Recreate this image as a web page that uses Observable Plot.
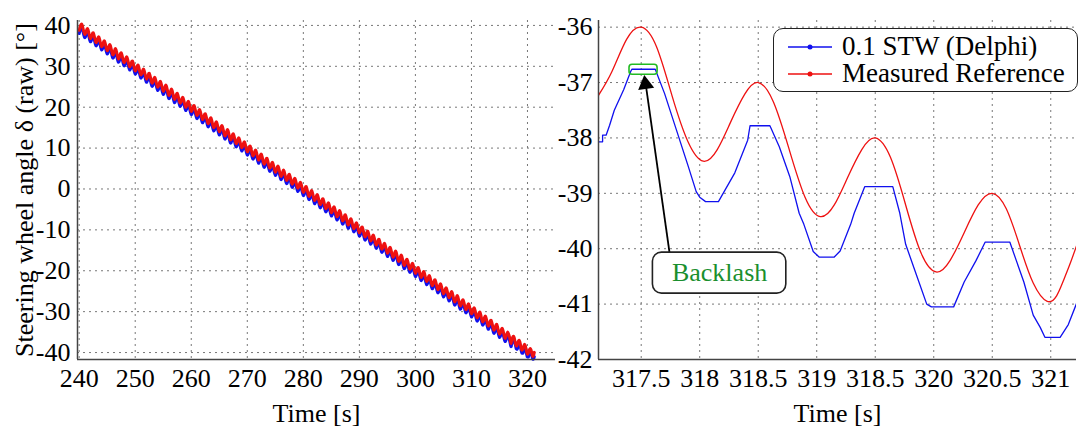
<!DOCTYPE html>
<html><head><meta charset="utf-8">
<script src="https://cdn.jsdelivr.net/npm/d3@7"></script>
<script src="https://cdn.jsdelivr.net/npm/@observablehq/plot@0.6"></script>
<style>
body{margin:0;background:#fff;}
#wrap{position:relative;width:1081px;height:428px;display:flex;font-family:"Liberation Serif",serif;}
#legend{position:absolute;left:773px;top:28px;width:305px;height:64px;border:1.6px solid #222;border-radius:10px;background:#fff;box-sizing:border-box;font-size:27px;line-height:27px;}
.row{position:absolute;left:14px;display:flex;align-items:center;white-space:nowrap;}
.row span{margin-left:10px;}
</style></head><body>
<div id="wrap"><div id="left"></div><div id="right"></div>
<div id="legend"></div></div>
<script>
// ---------- Data ----------
const seriesNames = ["0.1 STW (Delphi)", "Measured Reference"];
const seriesColors = ["#1010ee", "#ee1111"];

// left panel: extremes of the oscillation (peaks at t+0.5, troughs at whole seconds)
const leftPeakTimes = d3.range(240.5, 317, 1);
const leftTroughTimes = d3.range(240, 317.5, 1);
const leftRedPeaks = [40.2, 39.2, 38.2, 37.2, 36.2, 35.3, 34.3, 33.3, 32.3, 31.3,
 30.3, 29.3, 28.3, 27.3, 26.3, 25.4, 24.4, 23.4, 22.4, 21.4,
 20.4, 19.4, 18.4, 17.4, 16.4, 15.5, 14.5, 13.5, 12.5, 11.5,
 10.5, 9.5, 8.5, 7.5, 6.5, 5.6, 4.6, 3.6, 2.6, 1.6,
 0.6, -0.4, -1.4, -2.4, -3.4, -4.4, -5.3, -6.3, -7.3, -8.3,
 -9.3, -10.3, -11.3, -12.3, -13.3, -14.3, -15.2, -16.2, -17.2, -18.2,
 -19.2, -20.2, -21.2, -22.2, -23.2, -24.2, -25.1, -26.1, -27.1, -28.1,
 -29.1, -30.1, -31.1, -32.1, -33.1, -34.1, -35.0];
const leftRedTroughs = [38.8, 37.8, 36.8, 35.8, 34.8, 33.8, 32.8, 31.8, 30.9, 29.9,
 28.9, 27.9, 26.9, 25.9, 24.9, 23.9, 22.9, 21.9, 21.0, 20.0,
 19.0, 18.0, 17.0, 16.0, 15.0, 14.0, 13.0, 12.0, 11.1, 10.1,
 9.1, 8.1, 7.1, 6.1, 5.1, 4.1, 3.1, 2.1, 1.2, 0.2,
 -0.8, -1.8, -2.8, -3.8, -4.8, -5.8, -6.8, -7.8, -8.8, -9.7,
 -10.7, -11.7, -12.7, -13.7, -14.7, -15.7, -16.7, -17.7, -18.7, -19.6,
 -20.6, -21.6, -22.6, -23.6, -24.6, -25.6, -26.6, -27.6, -28.6, -29.5,
 -30.5, -31.5, -32.5, -33.5, -34.5, -35.5, -36.5, -37.5];
const leftBluePeaks = [39.4, 38.4, 37.4, 36.4, 35.4, 34.5, 33.5, 32.5, 31.5, 30.5,
 29.5, 28.5, 27.5, 26.5, 25.5, 24.6, 23.6, 22.6, 21.6, 20.6,
 19.6, 18.6, 17.6, 16.6, 15.6, 14.7, 13.7, 12.7, 11.7, 10.7,
 9.7, 8.7, 7.7, 6.7, 5.7, 4.8, 3.8, 2.8, 1.8, 0.8,
 -0.2, -1.2, -2.2, -3.2, -4.2, -5.2, -6.1, -7.1, -8.1, -9.1,
 -10.1, -11.1, -12.1, -13.1, -14.1, -15.1, -16.0, -17.0, -18.0, -19.0,
 -20.0, -21.0, -22.0, -23.0, -24.0, -25.0, -25.9, -26.9, -27.9, -28.9,
 -29.9, -30.9, -31.9, -32.9, -33.9, -34.9, -35.8];
const leftBlueTroughs = [38.0, 37.0, 36.0, 35.0, 34.0, 33.0, 32.0, 31.0, 30.1, 29.1,
 28.1, 27.1, 26.1, 25.1, 24.1, 23.1, 22.1, 21.1, 20.2, 19.2,
 18.2, 17.2, 16.2, 15.2, 14.2, 13.2, 12.2, 11.2, 10.3, 9.3,
 8.3, 7.3, 6.3, 5.3, 4.3, 3.3, 2.3, 1.3, 0.4, -0.6,
 -1.6, -2.6, -3.6, -4.6, -5.6, -6.6, -7.6, -8.6, -9.6, -10.5,
 -11.5, -12.5, -13.5, -14.5, -15.5, -16.5, -17.5, -18.5, -19.5, -20.4,
 -21.4, -22.4, -23.4, -24.4, -25.4, -26.4, -27.4, -28.4, -29.4, -30.3,
 -31.3, -32.3, -33.3, -34.3, -35.3, -36.3, -37.3, -38.3];

// right panel (zoom 317.1 - 321.2 s)
const redTimes = [317.135, 317.25, 317.375, 317.5, 317.63, 317.765, 317.9, 318.03, 318.15, 318.265, 318.385, 318.5,
 318.63, 318.765, 318.9, 319.03, 319.15, 319.265, 319.385, 319.5, 319.63, 319.76, 319.89, 320.02, 320.14, 320.26,
 320.38, 320.5, 320.62, 320.735, 320.85, 320.97, 321.05, 321.1, 321.16, 321.22];
const redValues = [-37.23, -36.8, -36.22, -36.0, -36.35, -37.25, -38.07, -38.42, -38.21, -37.71, -37.21, -37.0,
 -37.35, -38.21, -39.07, -39.42, -39.21, -38.71, -38.21, -38.0, -38.35, -39.21, -40.07, -40.42, -40.21, -39.71,
 -39.21, -39.0, -39.28, -39.95, -40.62, -40.95, -40.85, -40.62, -40.3, -39.95];
const blueTimes = [317.135, 317.17, 317.17, 317.2, 317.23, 317.27, 317.35, 317.41, 317.42, 317.62, 317.7, 317.8,
 317.9, 317.97, 318.0, 318.05, 318.16, 318.3, 318.41, 318.43, 318.6, 318.68, 318.77, 318.85, 318.89, 318.97,
 319.02, 319.15, 319.2, 319.29, 319.32, 319.41, 319.65, 319.71, 319.76, 319.85, 319.94, 319.98, 320.17, 320.26,
 320.36, 320.44, 320.65, 320.77, 320.85, 320.91, 320.95, 321.08, 321.15, 321.22];
const blueValues = [-38.07, -38.07, -37.95, -37.95, -37.77, -37.5, -37.13, -36.8, -36.76, -36.76, -37.2, -37.85,
 -38.5, -38.97, -39.07, -39.15, -39.15, -38.63, -38.04, -37.78, -37.78, -38.16, -38.7, -39.36, -39.56, -40.05,
 -40.15, -40.15, -40.04, -39.56, -39.36, -38.88, -38.88, -39.36, -39.92, -40.46, -41.0, -41.05, -41.05, -40.6,
 -40.22, -39.88, -39.88, -40.6, -41.2, -41.42, -41.6, -41.6, -41.37, -40.99];

const leftXTicks = [240, 250, 260, 270, 280, 290, 300, 310, 320];
const leftYTicks = [-40, -30, -20, -10, 0, 10, 20, 30, 40];
const rightXTicks = [317.5, 318, 318.5, 319, 319.5, 320, 320.5, 321];
const rightXTickLabels = ["317.5", "318", "318.5", "319", "318.5", "320", "320.5", "321"];
const rightYTicks = [-42, -41, -40, -39, -38, -37, -36];
const rightYTickLabels = ["-42", "-41", "-40", "-39", "-38", "-37", "-36"];

// annotation (data coordinates of the right panel)
const plateauBox = [{x1: 317.40, x2: 317.64, y1: -36.86, y2: -36.68}];
const labelBox = [{x1: 317.60, x2: 318.74, y1: -40.81, y2: -40.07, x: 318.17, y: -40.44, text: "Backlash"}];
const arrowShaft = [{x1: 317.742, y1: -40.07, x2: 317.54, y2: -37.05}];
const arrowHead = [{x: 317.537, y: -37.03}];

// ---------- Build ----------
function merge(times, values) { return times.map((t, i) => ({t, v: values[i]})); }
const leftRed = [], leftBlue = [];
leftTroughTimes.forEach((t, i) => {
  leftRed.push({t, v: leftRedTroughs[i]});
  leftBlue.push({t, v: leftBlueTroughs[i]});
  if (i < leftPeakTimes.length) {
    leftRed.push({t: leftPeakTimes[i], v: leftRedPeaks[i]});
    leftBlue.push({t: leftPeakTimes[i], v: leftBluePeaks[i]});
  }
});
const rightRed = merge(redTimes, redValues);
const rightBlue = merge(blueTimes, blueValues);
const leftRedAll = leftRed.concat(rightRed);
const leftBlueAll = leftBlue.concat(rightBlue);

const FONT = "'Liberation Serif', 'Times New Roman', serif";
const gridStyle = {stroke: "#777", strokeOpacity: 1, strokeWidth: 1, strokeDasharray: "2,4"};
const axisStroke = "#444";
const tickText = {fontSize: 26, fontFamily: FONT, tickSize: 0};

const lx = [239.7, 325], ly = [-41.7, 41.2];
const left = Plot.plot({
  width: 560, height: 428, marginLeft: 77, marginRight: 5, marginTop: 20, marginBottom: 69,
  style: {fontFamily: FONT, fontSize: "26px", background: "#fff", color: "#000", overflow: "visible"},
  x: {domain: lx}, y: {domain: ly},
  marks: [
    Plot.ruleX(leftXTicks, gridStyle),
    Plot.ruleY(leftYTicks, gridStyle),
    Plot.line(leftBlueAll, {x: "t", y: "v", stroke: seriesColors[0], strokeWidth: 3, curve: "natural"}),
    Plot.line(leftRedAll, {x: "t", y: "v", stroke: seriesColors[1], strokeWidth: 3, curve: "natural"}),
    Plot.ruleX([lx[0]], {stroke: axisStroke, strokeWidth: 1.5}),
    Plot.ruleY([ly[0]], {stroke: axisStroke, strokeWidth: 1.5}),
    Plot.axisX(leftXTicks, {...tickText, tickPadding: 9, tickFormat: d => String(d),
      label: "Time [s]", labelAnchor: "center", labelOffset: 62, labelArrow: "none"}),
    Plot.axisY(leftYTicks, {...tickText, tickPadding: 7, tickFormat: d => String(d),
      label: "Steering wheel angle δ (raw) [°]", labelAnchor: "center", labelOffset: 63, labelArrow: "none"})
  ]
});
document.getElementById("left").appendChild(left);

const rx = [317.135, 321.22], ry = [-42, -35.88];
const right = Plot.plot({
  width: 521, height: 428, marginLeft: 38, marginRight: 5, marginTop: 20, marginBottom: 69,
  style: {fontFamily: FONT, fontSize: "26px", background: "#fff", color: "#000", overflow: "visible"},
  x: {domain: rx}, y: {domain: ry},
  marks: [
    Plot.ruleX(rightXTicks, gridStyle),
    Plot.ruleY(rightYTicks.filter(d => d > ry[0]), gridStyle),
    Plot.line(rightRed, {x: "t", y: "v", stroke: seriesColors[1], strokeWidth: 1.3, curve: "natural", clip: true}),
    Plot.line(rightBlue, {x: "t", y: "v", stroke: seriesColors[0], strokeWidth: 1.3, clip: true}),
    Plot.rect(plateauBox, {x1: "x1", x2: "x2", y1: "y1", y2: "y2", rx: 3, fill: "none", stroke: "#22bb22", strokeWidth: 1.6}),
    Plot.link(arrowShaft, {x1: "x1", y1: "y1", x2: "x2", y2: "y2", stroke: "#000", strokeWidth: 1.8}),
    Plot.dot(arrowHead, {x: "x", y: "y", symbol: "triangle", r: 6, fill: "#000", stroke: "none", rotate: -8}),
    Plot.rect(labelBox, {x1: "x1", x2: "x2", y1: "y1", y2: "y2", rx: 9, fill: "#fff", stroke: "#222", strokeWidth: 1.6}),
    Plot.text(labelBox, {x: "x", y: "y", text: "text", fill: "#1a8f2e", fontSize: 26, fontFamily: FONT}),
    Plot.ruleX([rx[0]], {stroke: axisStroke, strokeWidth: 1.5}),
    Plot.ruleY([ry[0]], {stroke: axisStroke, strokeWidth: 1.5}),
    Plot.axisX(rightXTicks, {...tickText, tickPadding: 9,
      tickFormat: d => rightXTickLabels[rightXTicks.indexOf(d)],
      label: "Time [s]", labelAnchor: "center", labelOffset: 62, labelArrow: "none"}),
    Plot.axisY(rightYTicks, {...tickText, tickPadding: 6,
      tickFormat: d => rightYTickLabels[rightYTicks.indexOf(d)], label: null})
  ]
});
document.getElementById("right").appendChild(right);

// legend
const lg = document.getElementById("legend");
seriesNames.forEach((name, i) => {
  const row = document.createElement("div");
  row.className = "row";
  row.style.top = (i === 0 ? 4 : 31) + "px";
  row.innerHTML = `<svg width="44" height="10"><line x1="0" y1="5" x2="44" y2="5" stroke="${seriesColors[i]}" stroke-width="1.5"/><circle cx="22" cy="5" r="2.5" fill="${seriesColors[i]}"/></svg><span>${name}</span>`;
  lg.appendChild(row);
});
</script>
</body></html>
